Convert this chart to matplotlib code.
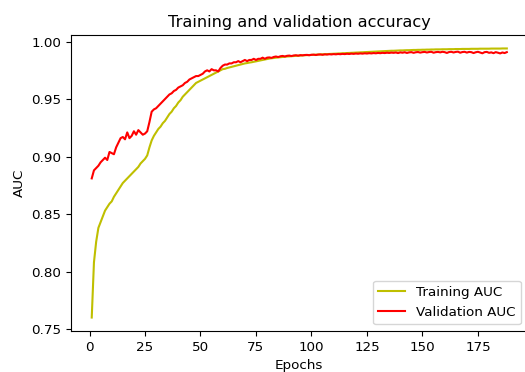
import matplotlib
matplotlib.use("Agg")
import matplotlib.pyplot as plt

train_auc = [
    0.760, 0.808, 0.826, 0.838, 0.843, 0.848, 0.853, 0.856, 0.859, 0.861,
    0.865, 0.868, 0.871, 0.874, 0.877, 0.879, 0.881, 0.883, 0.885, 0.887,
    0.889, 0.891, 0.894, 0.896, 0.898, 0.901, 0.908, 0.914, 0.918, 0.921,
    0.924, 0.926, 0.929, 0.931, 0.934, 0.937, 0.939, 0.942, 0.944, 0.947,
    0.949, 0.952, 0.954, 0.956, 0.958, 0.960, 0.962, 0.964, 0.965, 0.966,
    0.967, 0.968, 0.969, 0.970, 0.971, 0.972, 0.973, 0.974, 0.975, 0.976,
    0.9763, 0.977, 0.9775, 0.978, 0.9785, 0.979, 0.9795, 0.980, 0.9805, 0.981,
    0.9813, 0.9817, 0.982, 0.9824, 0.9828, 0.9832, 0.9836, 0.984, 0.9844, 0.9848,
    0.9852, 0.9855, 0.9857, 0.9860, 0.9862, 0.9864, 0.9866, 0.9868, 0.9870, 0.9871,
    0.9873, 0.9874, 0.9876, 0.9877, 0.9878, 0.9880, 0.9881, 0.9882, 0.9883, 0.9884,
    0.9885, 0.9886, 0.9887, 0.9888, 0.9889, 0.9890, 0.9891, 0.9892, 0.9893, 0.9894,
    0.9895, 0.9896, 0.9897, 0.9898, 0.9899, 0.9900, 0.9901, 0.9902, 0.9903, 0.9904,
    0.9905, 0.9906, 0.9907, 0.9908, 0.9909, 0.9910, 0.9911, 0.9912, 0.9913, 0.9914,
    0.9915, 0.9916, 0.9917, 0.9918, 0.9919, 0.9920, 0.9920, 0.9921, 0.9922, 0.9923,
    0.9923, 0.9924, 0.9925, 0.9925, 0.9926, 0.9927, 0.9927, 0.9928, 0.9928, 0.9929,
    0.9929, 0.9930, 0.9930, 0.9931, 0.9931, 0.9932, 0.9932, 0.9932, 0.9933, 0.9933,
    0.9933, 0.9934, 0.9934, 0.9934, 0.9935, 0.9935, 0.9935, 0.9936, 0.9936, 0.9936,
    0.9936, 0.9937, 0.9937, 0.9937, 0.9937, 0.9938, 0.9938, 0.9938, 0.9938, 0.9938,
    0.9939, 0.9939, 0.9939, 0.9939, 0.9939, 0.9940, 0.9940, 0.9940,
]

val_auc = [
    0.881, 0.888, 0.890, 0.892, 0.895, 0.897, 0.899, 0.897, 0.904, 0.903,
    0.902, 0.908, 0.912, 0.916, 0.917, 0.915, 0.921, 0.916, 0.918, 0.922,
    0.919, 0.923, 0.921, 0.919, 0.920, 0.922, 0.930, 0.939, 0.941, 0.942,
    0.944, 0.946, 0.948, 0.950, 0.952, 0.954, 0.955, 0.957, 0.958, 0.960,
    0.961, 0.962, 0.964, 0.965, 0.967, 0.968, 0.969, 0.970, 0.970, 0.971,
    0.972, 0.974, 0.975, 0.974, 0.976, 0.975, 0.975, 0.974, 0.977, 0.979,
    0.980, 0.980, 0.981, 0.981, 0.982, 0.982, 0.983, 0.982, 0.983, 0.984,
    0.983, 0.984, 0.984, 0.985, 0.984, 0.985, 0.985, 0.986, 0.985, 0.986,
    0.9862, 0.9858, 0.9866, 0.9870, 0.9865, 0.9872, 0.9875, 0.9870, 0.9876, 0.9878,
    0.9874, 0.9879, 0.9881, 0.9877, 0.9882, 0.9880, 0.9883, 0.9884, 0.9881, 0.9885,
    0.9886, 0.9883, 0.9887, 0.9888, 0.9885, 0.9889, 0.9887, 0.9890, 0.9888, 0.9891,
    0.9889, 0.9892, 0.9890, 0.9893, 0.9891, 0.9894, 0.9892, 0.9895, 0.9893, 0.9896,
    0.9894, 0.9897, 0.9895, 0.9898, 0.9896, 0.9899, 0.9897, 0.9900, 0.9898, 0.9901,
    0.9899, 0.9902, 0.9900, 0.9903, 0.9901, 0.9904, 0.9902, 0.9905, 0.9900, 0.9906,
    0.9903, 0.9907, 0.9901, 0.9906, 0.9908, 0.9902, 0.9907, 0.9909, 0.9904, 0.9908,
    0.9910, 0.9905, 0.9909, 0.9911, 0.9903, 0.9908, 0.9910, 0.9906, 0.9911, 0.9908,
    0.9901, 0.9909, 0.9911, 0.9905, 0.9910, 0.9912, 0.9903, 0.9909, 0.9911, 0.9904,
    0.9910, 0.9908, 0.9900, 0.9907, 0.9911, 0.9905, 0.9898, 0.9908, 0.9910, 0.9902,
    0.9906, 0.9899, 0.9908, 0.9903, 0.9897, 0.9905, 0.9900, 0.9908,
]

epochs = list(range(1, len(train_auc) + 1))

plt.rcParams['font.size'] = 9.7

fig = plt.figure(figsize=(5.25, 3.72), dpi=100)
ax = fig.add_axes([0.1352, 0.1102, 0.8697, 0.7957])
ax.plot(epochs, train_auc, 'y', label='Training AUC')
ax.plot(epochs, val_auc, 'r', label='Validation AUC')
ax.set_title('Training and validation accuracy')
ax.set_xlabel('Epochs')
ax.set_ylabel('AUC')
ax.legend(loc='lower right')
fig.savefig('out.png', dpi=100)
